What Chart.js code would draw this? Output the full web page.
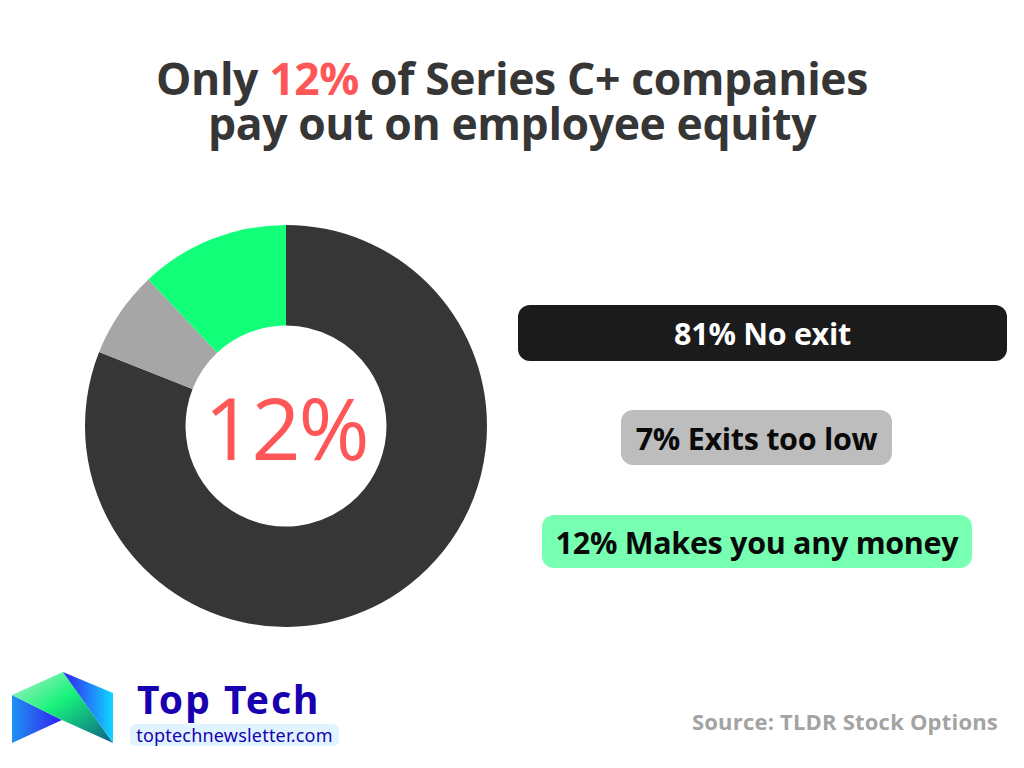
<!DOCTYPE html>
<html>
<head>
<meta charset="utf-8">
<script src="https://cdn.jsdelivr.net/npm/chart.js@4.4.1/dist/chart.umd.min.js"></script>
<style>
    html, body { margin: 0; padding: 0; background: #fff; }
    body { width: 1024px; height: 768px; position: relative; overflow: hidden; font-family: "Open Sans", sans-serif; }
    #titolo {
        position: absolute; left: 0; top: 55px; width: 1024px; text-align: center;
        font-weight: 700; font-size: 44.5px; line-height: 45px; color: #363636; letter-spacing: -0.4px;
    }
    #titolo .rosso { color: #ff5757; }
    #chart-box { position: absolute; left: 85px; top: 225px; width: 402px; height: 402px; }
    #centro {
        position: absolute; left: 186px; top: 326px; width: 200px; height: 200px;
        display: flex; align-items: center; justify-content: center;
        font-size: 86px; color: #ff5757; font-family: "Open Sans", sans-serif; letter-spacing: -2px;
    }
    .etichetta {
        position: absolute; border-radius: 12px; font-weight: 700; font-size: 30.5px;
        display: flex; align-items: center; justify-content: center; letter-spacing: -0.3px;
    }
    #logo-nome { position: absolute; left: 137px; top: 672px; font-size: 39px; font-weight: 700; color: #1800b0; font-family: "Noto Sans", sans-serif; letter-spacing: 2px; }
    #logo-url {
        position: absolute; left: 130px; top: 724px; width: 209px; height: 22px; border-radius: 6px;
        background: #dff4fe; color: #1800b0; font-size: 18px; line-height: 22px; text-align: center; font-family: "Noto Sans", sans-serif; letter-spacing: 0.2px;
    }
    #fonte { position: absolute; right: 26px; top: 706px; font-size: 22px; font-weight: 700; color: #a3a3a3; letter-spacing: 0.2px; }
</style>
</head>
<body>

<div id="titolo">Only <span class="rosso">12%</span> of Series C+ companies<br>pay out on employee equity</div>

<div id="chart-box"><canvas id="ciambella"></canvas></div>
<div id="centro"></div>

<div id="etichette"></div>

<svg style="position:absolute; left:10px; top:668px" width="110" height="80" viewBox="0 0 110 80">
    <defs>
        <linearGradient id="g1" x1="0" y1="0" x2="1" y2="0">
            <stop offset="0" stop-color="#1e92f2"/><stop offset="1" stop-color="#3320f0"/>
        </linearGradient>
        <linearGradient id="g2" x1="0" y1="0" x2="1" y2="1">
            <stop offset="0" stop-color="#b2f2cc"/><stop offset="0.45" stop-color="#17f279"/><stop offset="1" stop-color="#0b5f88"/>
        </linearGradient>
        <linearGradient id="g3" x1="0" y1="0" x2="1" y2="0">
            <stop offset="0" stop-color="#3320f0"/><stop offset="1" stop-color="#10d6ff"/>
        </linearGradient>
    </defs>
    <polygon points="2,27 2,75 52,52" fill="url(#g1)"/>
    <polygon points="2,27 53,4 103,75 52,52" fill="url(#g2)"/>
    <polygon points="53,4 103,25 103,75" fill="url(#g3)"/>
</svg>
<div id="logo-nome">Top Tech</div>
<div id="logo-url">toptechnewsletter.com</div>

<div id="fonte">Source: TLDR Stock Options</div>

<script>
/* =======================
   DATI
======================= */

const CATEGORIE = ["No exit", "Exits too low", "Makes you any money"];
const VALORI = [81, 7, 12];
const COLORI_FETTE = ["#363636", "#a6a6a6", "#12ff7a"];
const COLORI_ETICHETTE = ["#1b1b1b", "#bdbdbd", "#77ffb2"];
const COLORI_TESTO = ["#ffffff", "#0a0a0a", "#0a0a0a"];
const VALORE_CENTRO = VALORI[2];

/* posizione delle etichette a destra */
const BOX = [
    { left: 518, top: 305, width: 489, height: 56 },
    { left: 621, top: 410, width: 271, height: 55 },
    { left: 542, top: 515, width: 430, height: 53 }
];

/* =======================
   ETICHETTE
======================= */

function renderEtichette() {
    const cont = document.getElementById("etichette");
    let html = "";
    CATEGORIE.forEach((c, i) => {
        const b = BOX[i];
        html += `<div class="etichetta" style="left:${b.left}px;top:${b.top}px;width:${b.width}px;height:${b.height}px;background:${COLORI_ETICHETTE[i]};color:${COLORI_TESTO[i]}">${VALORI[i]}% ${c}</div>`;
    });
    cont.innerHTML = html;
    document.getElementById("centro").textContent = VALORE_CENTRO + "%";
}

/* =======================
   GRAFICO
======================= */

function renderCiambella() {
    const ctx = document.getElementById("ciambella").getContext("2d");
    new Chart(ctx, {
        type: "doughnut",
        data: {
            labels: CATEGORIE,
            datasets: [{
                data: VALORI,
                backgroundColor: COLORI_FETTE,
                borderWidth: 0,
                hoverOffset: 0
            }]
        },
        options: {
            responsive: true,
            maintainAspectRatio: false,
            animation: false,
            cutout: "50%",
            layout: { padding: 0 },
            plugins: {
                legend: { display: false },
                tooltip: { enabled: false }
            }
        }
    });
}

document.addEventListener("DOMContentLoaded", () => {
    renderEtichette();
    renderCiambella();
});
</script>
</body>
</html>
